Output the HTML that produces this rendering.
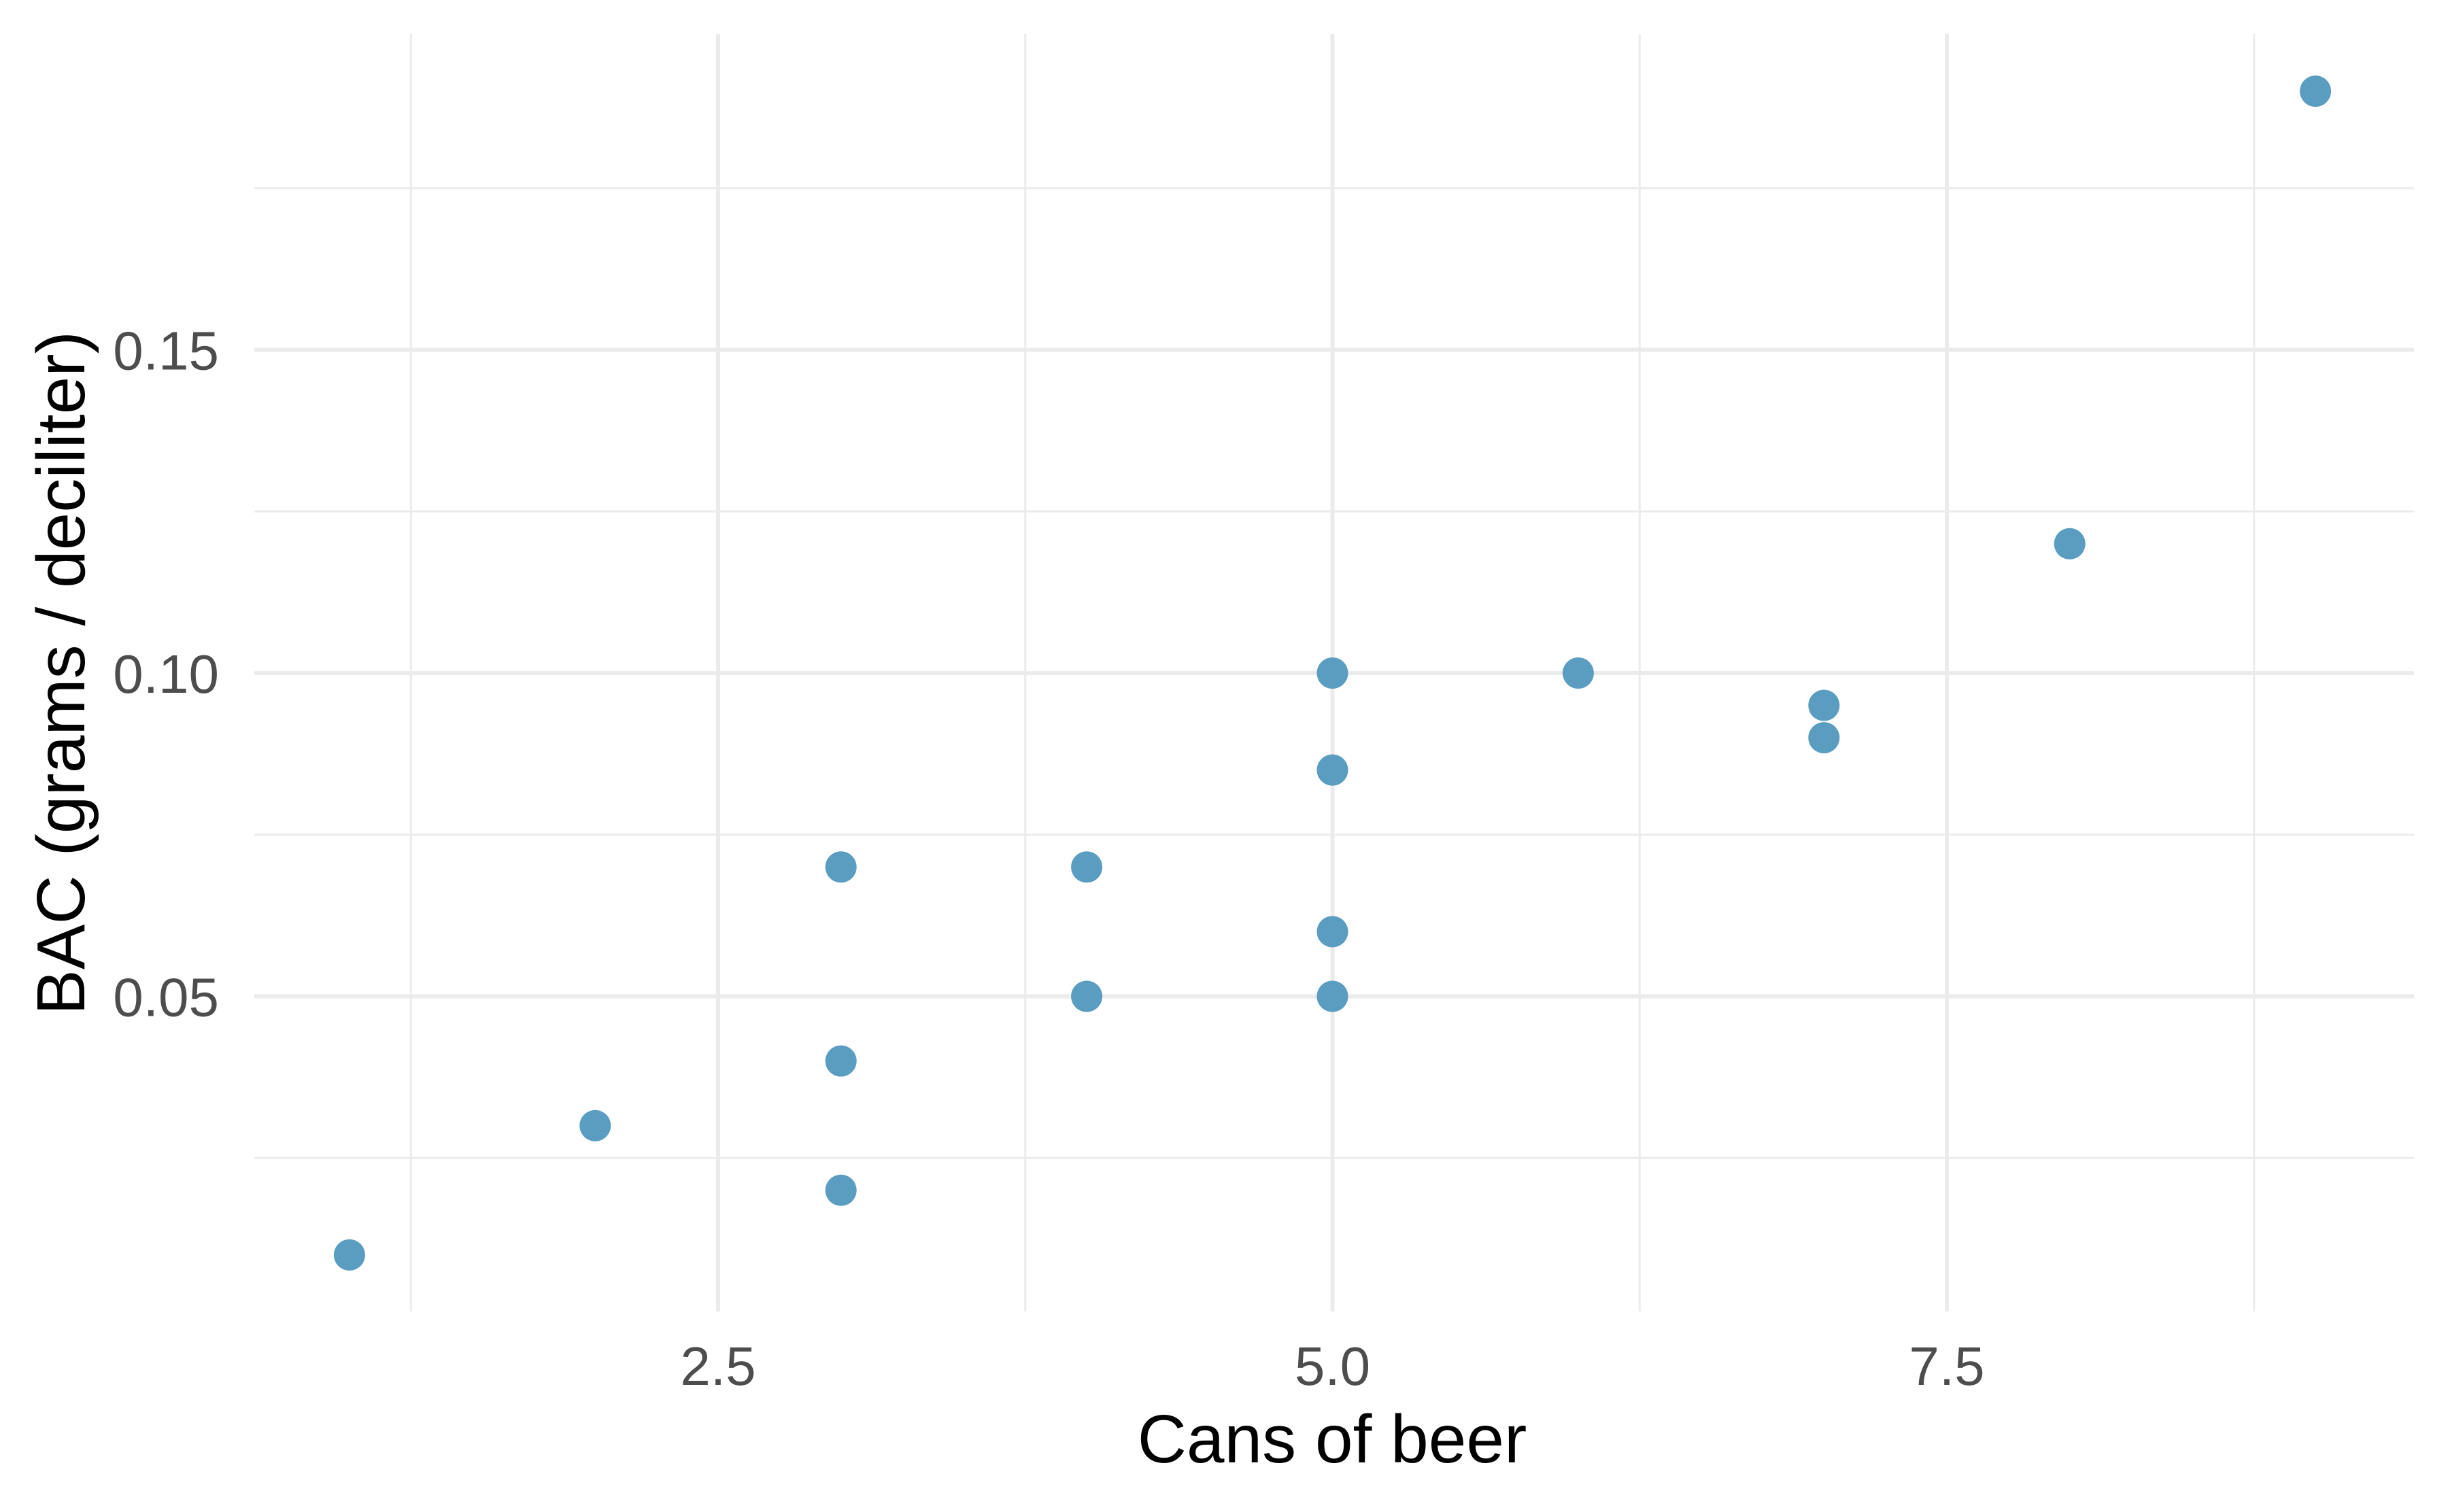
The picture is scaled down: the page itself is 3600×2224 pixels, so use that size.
<!DOCTYPE html>
<html><head><meta charset="utf-8"><style>
html,body{margin:0;padding:0;background:#fff;}
svg{display:block;font-family:"Liberation Sans",sans-serif;}
</style></head><body>
<svg id="chart" width="3600" height="2224" viewBox="0 0 3600 2224">
<g id="grid"></g>
<g id="ylabels"></g>
<g id="xlabels"></g>
<g id="points"></g>
<text x="1959" y="2151" text-anchor="middle" font-size="100" fill="#000">Cans of beer</text>
<text transform="translate(124,990) rotate(-90)" text-anchor="middle" font-size="100" fill="#000">BAC (grams / deciliter)</text>
</svg>
<script>
const cans = [1,2,3,3,3,4,4,5,5,5,5,6,7,7,8,9];
const bac = [0.01,0.03,0.02,0.04,0.07,0.05,0.07,0.05,0.06,0.085,0.10,0.10,0.09,0.095,0.12,0.19];
const xMajor = [2.5,5.0,7.5];
const xMajorLabels = ["2.5","5.0","7.5"];
const xMinor = [1.25,3.75,6.25,8.75];
const yMajor = [0.05,0.10,0.15];
const yMajorLabels = ["0.05","0.10","0.15"];
const yMinor = [0.025,0.075,0.125,0.175];

const NS="http://www.w3.org/2000/svg";
const L=374,R=3550,T=50,B=1929;
function sx(v){return 1056+(v-2.5)*361.4;}
function sy(v){return 990-(v-0.10)*9510;}
function mk(tag,parent,attrs){const e=document.createElementNS(NS,tag);for(const k in attrs)e.setAttribute(k,attrs[k]);parent.appendChild(e);return e;}
const grid=document.getElementById('grid');
yMinor.forEach(v=>{const e=mk('line',grid,{x1:L,x2:R,y1:sy(v),y2:sy(v),stroke:'#ebebeb','stroke-width':3});

});
xMinor.forEach(v=>{const e=mk('line',grid,{x1:sx(v),x2:sx(v),y1:T,y2:B,stroke:'#ebebeb','stroke-width':3});

});
yMajor.forEach(v=>{const e=mk('line',grid,{x1:L,x2:R,y1:sy(v),y2:sy(v),stroke:'#ebebeb','stroke-width':6});

});
xMajor.forEach(v=>{const e=mk('line',grid,{x1:sx(v),x2:sx(v),y1:T,y2:B,stroke:'#ebebeb','stroke-width':6});

});
const yl=document.getElementById('ylabels');
yMajor.forEach((v,i)=>{const t=mk('text',yl,{x:322,y:sy(v)+29,'text-anchor':'end','font-size':80,fill:'#4d4d4d'});t.textContent=yMajorLabels[i];

});
const xl=document.getElementById('xlabels');
xMajor.forEach((v,i)=>{const t=mk('text',xl,{x:sx(v),y:2037,'text-anchor':'middle','font-size':80,fill:'#4d4d4d'});t.textContent=xMajorLabels[i];

});
const pts=document.getElementById('points');
cans.forEach((c,i)=>{const e=mk('circle',pts,{cx:sx(c),cy:sy(bac[i]),r:23,fill:'#5a9dc0'});

});
</script>
</body></html>
